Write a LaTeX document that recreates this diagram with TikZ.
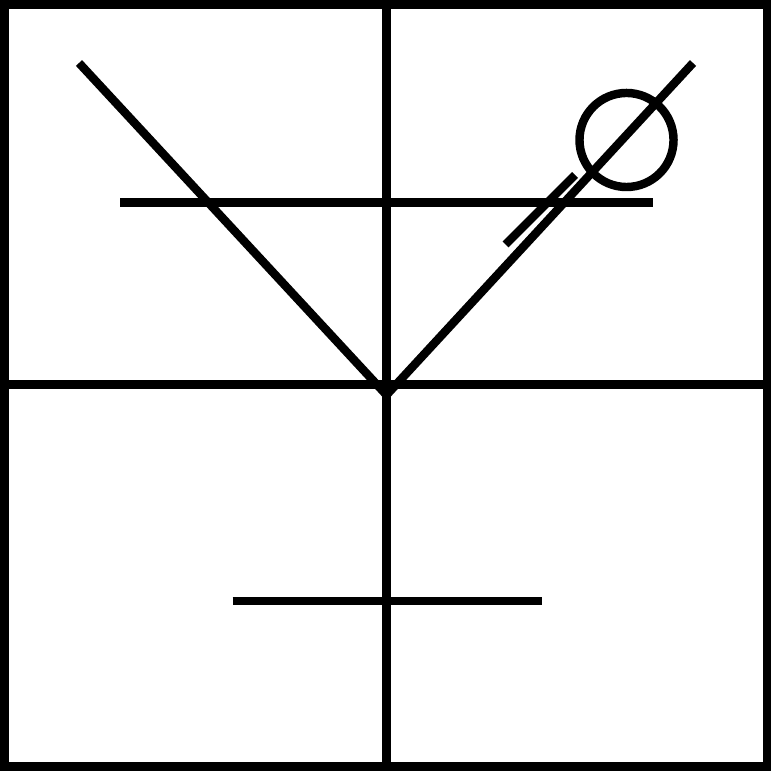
\documentclass[tikz,border=0pt]{standalone}
\usepackage{tikz}
\tikzset{thick_line/.style={draw=black, line width=2.4pt, line cap=butt},
	frame_line/.style={draw=black, line width=2.4pt}
}

\begin{document}
\begin{tikzpicture}[x=0.01cm, y=-0.01cm]
				\useasboundingbox (0,0) rectangle (771,771);
				% frame and cross
				\draw[frame_line] (4.3,4.3) rectangle (766.8,766.5);
				\coordinate (top) at (386.5,4.3);
				\coordinate (bottom) at (386.5,766.5);
				\coordinate (left) at (4.3,384.5);
				\coordinate (right) at (766.8,384.5);
				\draw[thick_line] (top) -- (bottom);
				\draw[thick_line] (left) -- (right);
				
				% glass
				\coordinate (apex) at (386.5,395);
				\coordinate (rimL) at (79,63);
				\coordinate (rimR) at (693,63);
				\draw[thick_line, line join=miter] (rimL) -- (apex) -- (rimR);
				\coordinate (levelL) at (120,202.5);
				\coordinate (levelR) at (652.7,202.5);
				\draw[thick_line] (levelL) -- (levelR);
				\coordinate (baseL) at (232.7,601);
				\coordinate (baseR) at (541.7,601);
				\draw[thick_line] (baseL) -- (baseR);
				
				% olive and stick
				\coordinate (olive) at (626.5,140);
				\draw[thick_line] (olive) circle [radius=0.47cm];
				\coordinate (stickA) at (505.5,244.5);
				\coordinate (stickB) at (575,175);
				\draw[thick_line] (stickA) -- (stickB);
\end{tikzpicture}
\end{document}
